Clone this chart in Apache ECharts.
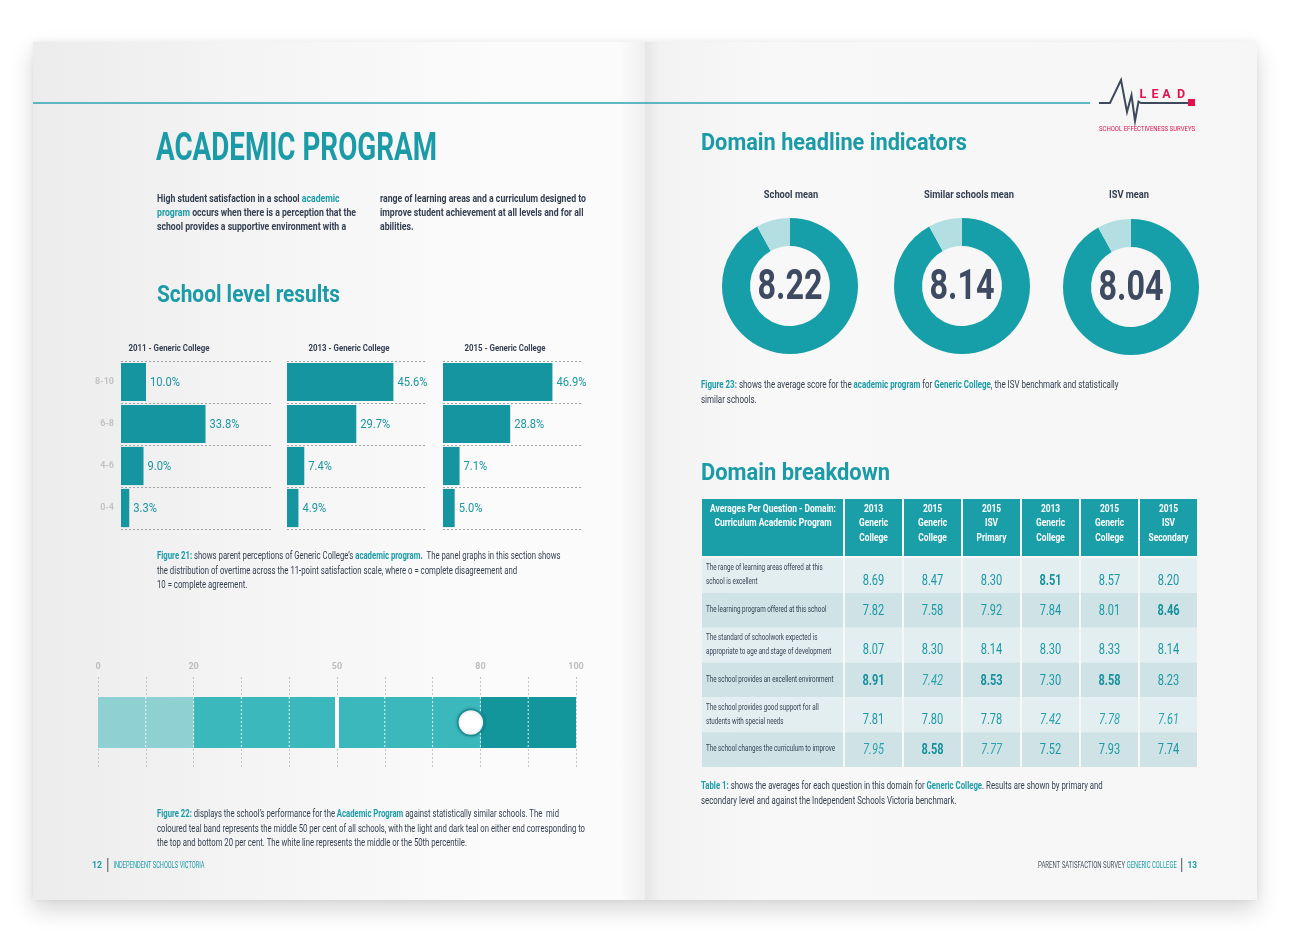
<!DOCTYPE html>
<html>
<head>
<meta charset="utf-8">
<script src="https://cdn.jsdelivr.net/npm/echarts@6.0.0/dist/echarts.min.js"></script>
<style>
  html, body { margin: 0; padding: 0; background: #ffffff; }
  #wrap { position: relative; width: 1290px; height: 942px; overflow: hidden; background: #ffffff; }
  #spread { position: absolute; left: 33px; top: 42px; width: 1224px; height: 858px; box-shadow: 0 10px 22px rgba(0,0,0,0.16), 0 0 6px rgba(0,0,0,0.06); }
  #leftPage { position: absolute; left: 33px; top: 42px; width: 612px; height: 858px;
    background: linear-gradient(to right, #ececec 0%, #f4f4f4 35%, #fbfbfb 75%, #fbfbfb 96%, #efefef 100%); }
  #rightPage { position: absolute; left: 645px; top: 42px; width: 612px; height: 858px;
    background: linear-gradient(to right, #e6e6e6 0%, #f2f2f2 2.5%, #f8f8f8 20%, #f6f6f6 100%); }
  #chart { position: absolute; left: 0; top: 0; width: 1290px; height: 942px; }
</style>
</head>
<body>
<div id="wrap">
  <div id="spread"></div>
  <div id="leftPage"></div>
  <div id="rightPage"></div>
  <div id="chart"></div>
</div>
<script>
// ---------------- DATA ----------------
const scoreBands = ['8-10', '6-8', '4-6', '0-4'];
const panelTitles = ['2011 - Generic College', '2013 - Generic College', '2015 - Generic College'];
const pct2011 = [10.0, 33.8, 9.0, 3.3];
const pct2013 = [45.6, 29.7, 7.4, 4.9];
const pct2015 = [46.9, 28.8, 7.1, 5.0];

const percentileTickLabels = [0, 20, 50, 80, 100];
const percentileGridLines = [10, 20, 30, 40, 50, 60, 70, 80, 90];
const bandLow = [0, 20];
const bandMid = [20, 80];
const bandHigh = [80, 100];
const medianPct = 50;
const schoolPct = 78;

const donutLabels = ['School mean', 'Similar schools mean', 'ISV mean'];
const donutMeans = [8.22, 8.14, 8.04];
const ringDark = [92, 92, 92];
const ringLight = [8, 8, 8];

const tableCorner = 'Averages Per Question - Domain:\nCurriculum Academic Program';
const tableColumns = ['2013\nGeneric\nCollege', '2015\nGeneric\nCollege', '2015\nISV\nPrimary',
                      '2013\nGeneric\nCollege', '2015\nGeneric\nCollege', '2015\nISV\nSecondary'];
const questions = [
  'The range of learning areas offered at this\nschool is excellent',
  'The learning program offered at this school',
  'The standard of schoolwork expected is\nappropriate to age and stage of development',
  'The school provides an excellent environment',
  'The school provides good support for all\nstudents with special needs',
  'The school changes the curriculum to improve'
];
const q1Values = [8.69, 8.47, 8.30, 8.51, 8.57, 8.20];
const q2Values = [7.82, 7.58, 7.92, 7.84, 8.01, 8.46];
const q3Values = [8.07, 8.30, 8.14, 8.30, 8.33, 8.14];
const q4Values = [8.91, 7.42, 8.53, 7.30, 8.58, 8.23];
const q5Values = [7.81, 7.80, 7.78, 7.42, 7.78, 7.61];
const q6Values = [7.95, 8.58, 7.77, 7.52, 7.93, 7.74];
const tableValues = [q1Values, q2Values, q3Values, q4Values, q5Values, q6Values];
// text emphasis of each value cell as printed (b = bold, i = italic, n = normal)
const valueEmphasis = [
  ['n','n','n','b','n','n'],
  ['n','n','n','n','n','b'],
  ['n','n','n','n','n','n'],
  ['b','i','b','n','b','n'],
  ['n','n','n','i','i','i'],
  ['i','b','i','n','n','n']
];

// ---------------- STYLE ----------------
const FONT = "Roboto, 'Liberation Sans', sans-serif";
const TEAL = '#1b9ba7';
const TEXT_TEAL = '#1a98a4';
const DARK = '#333f51';
const BAR = '#15959f';
const HEAD_BG = '#1a9ea8';
const ROW_A = '#e3eef0';
const ROW_B = '#cfe3e6';

// text measuring, used to squeeze text horizontally like the condensed face of the original
const mctx = document.createElement('canvas').getContext('2d');
function measure(str, size, weight) {
  mctx.font = (weight || 'normal') + ' ' + size + 'px ' + FONT;
  return mctx.measureText(str).width;
}
function fitScale(str, size, weight, target) { return target / measure(str, size, weight); }
function plain(s) { return s.replace(/\{[a-z]+\|([^}]*)\}/g, '$1'); }

function gText(x, y, text, o) {
  const st = {
    text: text, x: 0, y: 0, fontFamily: FONT, fontSize: o.size, fontWeight: o.weight || 'normal',
    fill: o.fill || DARK, align: o.align || 'left', verticalAlign: o.va || 'middle'
  };
  if (o.lh) st.lineHeight = o.lh;
  if (o.rich) st.rich = o.rich;
  return { type: 'text', x: x, y: y, scaleX: o.sx || 1, silent: true, style: st };
}

function caption(x, y, text, size, lh, fitLine, target) {
  const sx = fitScale(plain(fitLine), size, 'normal', target);
  return gText(x, y, text, { size: size, lh: lh, va: 'top', sx: sx, fill: DARK,
    rich: {
      b: { fontFamily: FONT, fontSize: size, fontWeight: 'bold', fill: TEAL, lineHeight: lh },
      n: { fontFamily: FONT, fontSize: size, fill: DARK, lineHeight: lh }
    } });
}

const chart = echarts.init(document.getElementById('chart'), null, { renderer: 'canvas' });

const panels = [pct2011, pct2013, pct2015];
const panelGrids = [{ left: 121, width: 150 }, { left: 287, width: 140 }, { left: 443, width: 140 }];
const panelTitleX = [169, 349, 505];
const donutCenters = [[790, 286], [962, 286], [1131, 287]];
const donutTitleX = [791, 969, 1129];

const graphics = [];
// top rule
graphics.push({ type: 'line', silent: true, shape: { x1: 33, y1: 103, x2: 1090, y2: 103 }, style: { stroke: '#2aa3b2', lineWidth: 1.5 } });
// LEAD logo
graphics.push({ type: 'polyline', silent: true,
  shape: { points: [[1099,103],[1110,103],[1121,80],[1127,112],[1131.5,95],[1135,121],[1138.5,101.5],[1141,103],[1189,103]] },
  style: { stroke: '#3e4a5c', lineWidth: 2, fill: null, lineJoin: 'miter' } });
graphics.push({ type: 'rect', silent: true, shape: { x: 1188, y: 99, width: 7, height: 7 }, style: { fill: '#e2124c' } });
['L', 'E', 'A', 'D'].forEach(function (ch, i) {
  graphics.push(gText([1143, 1155, 1166.5, 1181][i], 94.5, ch, { size: 12.5, weight: 'bold', fill: '#e2124c', align: 'center' }));
});
graphics.push(gText(1099, 129, 'SCHOOL EFFECTIVENESS SURVEYS',
  { size: 7, fill: '#e2124c', sx: fitScale('SCHOOL EFFECTIVENESS SURVEYS', 7, 'normal', 96) }));

// titles
graphics.push(gText(156, 150, 'ACADEMIC PROGRAM', { size: 38, weight: 'bold', fill: TEAL, sx: fitScale('ACADEMIC PROGRAM', 38, 'bold', 281) }));
graphics.push(gText(157, 295.5, 'School level results', { size: 24, weight: 'bold', fill: TEAL, sx: fitScale('School level results', 24, 'bold', 183) }));
graphics.push(gText(701, 143.5, 'Domain headline indicators', { size: 24, weight: 'bold', fill: TEAL, sx: fitScale('Domain headline indicators', 24, 'bold', 266) }));
graphics.push(gText(701, 473.5, 'Domain breakdown', { size: 24, weight: 'bold', fill: TEAL, sx: fitScale('Domain breakdown', 24, 'bold', 189) }));

// intro paragraph
const introL = 'High student satisfaction in a school {t|academic}\n{t|program} occurs when there is a perception that the\nschool provides a supportive environment with a';
const introR = 'range of learning areas and a curriculum designed to\nimprove student achievement at all levels and for all\nabilities.';
graphics.push(gText(157, 192, introL, { size: 10.5, weight: 'bold', lh: 14, va: 'top',
  sx: fitScale('program occurs when there is a perception that the', 10.5, 'bold', 199),
  rich: { t: { fontFamily: FONT, fontWeight: 'bold', fontSize: 10.5, fill: TEAL, lineHeight: 14 } } }));
graphics.push(gText(380, 192, introR, { size: 10.5, weight: 'bold', lh: 14, va: 'top',
  sx: fitScale('range of learning areas and a curriculum designed to', 10.5, 'bold', 206) }));

// captions
const fig21 = '{b|Figure 21:} shows parent perceptions of Generic College\u2019s {b|academic program.}  The panel graphs in this section shows\nthe distribution of overtime across the 11-point satisfaction scale, where o = complete disagreement and\n10 = complete agreement.';
graphics.push(caption(157, 549.5, fig21, 10, 14.5, fig21.split('\n')[0], 402));
const fig22 = '{b|Figure 22:} displays the school\u2019s performance for the {b|Academic Program} against statistically similar schools. The  mid\ncoloured teal band represents the middle 50 per cent of all schools, with the light and dark teal on either end corresponding to\nthe top and bottom 20 per cent. The white line represents the middle or the 50th percentile.';
graphics.push(caption(157, 807.5, fig22, 10, 14.5, fig22.split('\n')[1], 428));
const fig23 = '{b|Figure 23:} shows the average score for the {b|academic program} for {b|Generic College}, the ISV benchmark and statistically\nsimilar schools.';
graphics.push(caption(701, 378, fig23, 10, 15, fig23.split('\n')[0], 415));
const tab1 = '{b|Table 1:} shows the averages for each question in this domain for {b|Generic College}. Results are shown by primary and\nsecondary level and against the Independent Schools Victoria benchmark.';
graphics.push(caption(701, 779.5, tab1, 10, 14.5, tab1.split('\n')[0], 400));

// panel titles
const panelTitleSx = fitScale(panelTitles[0], 9.5, 'bold', 81);
panelTitles.forEach(function (t, i) {
  graphics.push(gText(panelTitleX[i], 348.5, t, { size: 9.5, weight: 'bold', align: 'center', sx: panelTitleSx }));
});
// donut titles and centre values
const donutTitleSx = fitScale(donutLabels[1], 11, 'bold', 90);
donutLabels.forEach(function (t, i) {
  graphics.push(gText(donutTitleX[i], 195.5, t, { size: 11, weight: 'bold', align: 'center', sx: donutTitleSx }));
});
const donutValSx = fitScale('8.14', 42, 'bold', 65);
donutMeans.forEach(function (m, i) {
  graphics.push({ type: 'text', x: donutCenters[i][0], y: donutCenters[i][1] + 2, scaleX: donutValSx, silent: true, z: 10,
    style: { text: m.toFixed(2), x: 0, y: 0, fontFamily: FONT, fontSize: 42, fontWeight: 'bold', fill: '#3e4a62', align: 'center', verticalAlign: 'middle' } });
});

// footers
graphics.push(gText(92, 865.5, '12', { size: 9.5, weight: 'bold', fill: TEAL, sx: fitScale('12', 9.5, 'bold', 10) }));
graphics.push({ type: 'line', silent: true, shape: { x1: 107.8, y1: 858, x2: 107.8, y2: 872 }, style: { stroke: '#4a5364', lineWidth: 1 } });
graphics.push(gText(113.5, 865.5, 'INDEPENDENT SCHOOLS VICTORIA', { size: 8.5, fill: TEAL, sx: fitScale('INDEPENDENT SCHOOLS VICTORIA', 8.5, 'normal', 91) }));
graphics.push(gText(1197, 865.5, '13', { size: 9.5, weight: 'bold', fill: TEAL, align: 'right', sx: fitScale('13', 9.5, 'bold', 9.5) }));
graphics.push({ type: 'line', silent: true, shape: { x1: 1181.7, y1: 858, x2: 1181.7, y2: 872 }, style: { stroke: '#4a5364', lineWidth: 1 } });
graphics.push(gText(1176.7, 865.5, 'GENERIC COLLEGE', { size: 8.5, fill: TEAL, align: 'right', sx: fitScale('GENERIC COLLEGE', 8.5, 'normal', 50) }));
graphics.push(gText(1125, 865.5, 'PARENT SATISFACTION SURVEY', { size: 8.5, fill: '#4a5364', align: 'right', sx: fitScale('PARENT SATISFACTION SURVEY', 8.5, 'normal', 87) }));

// ---------------- render helpers ----------------
const barLabelSx = fitScale('33.8%', 12.5, 'normal', 30);
function renderBarLabel(params, api) {
  const v = api.value(0);
  const p = api.coord([v, api.value(1)]);
  return { type: 'text', x: p[0] + 4, y: p[1] + 0.5, scaleX: barLabelSx,
    style: { text: v.toFixed(1) + '%', x: 0, y: 0, fontFamily: FONT, fontSize: 12.5, fill: '#1b96a2', align: 'left', verticalAlign: 'middle' } };
}
function renderBand(params, api) {
  const a = api.coord([api.value(0), 0.78]);
  const b = api.coord([api.value(1), 0.22]);
  const colors = ['#8fd0d3', '#3ab8bc', '#12959b'];
  return { type: 'rect', shape: { x: a[0], y: a[1], width: b[0] - a[0], height: b[1] - a[1] }, style: { fill: colors[api.value(2)] } };
}
function renderWhiteDash(params, api) {
  const a = api.coord([api.value(0), 0.78]);
  const b = api.coord([api.value(0), 0.22]);
  return { type: 'line', shape: { x1: a[0], y1: a[1], x2: b[0], y2: b[1] }, style: { stroke: 'rgba(255,255,255,0.85)', lineWidth: 1, lineDash: [2, 2] } };
}
function renderMedian(params, api) {
  const a = api.coord([api.value(0), 0.785]);
  const b = api.coord([api.value(0), 0.215]);
  return { type: 'rect', shape: { x: a[0] - 2, y: a[1], width: 4, height: b[1] - a[1] }, style: { fill: '#ffffff' } };
}
function cellBox(api) {
  const c = api.coord([api.value(0), api.value(1)]);
  const s = api.size([1, 1]);
  return { cx: c[0], cy: c[1], x: c[0] - s[0] / 2, y: c[1] - s[1] / 2, w: s[0], h: s[1] };
}
const cornerSx = fitScale('Averages Per Question - Domain:', 10, 'bold', 126);
const headSx = fitScale('Secondary', 10, 'bold', 40);
const questionSx = fitScale('The school changes the curriculum to improve', 9, 'normal', 129);
const valueSx = fitScale('8.69', 14.5, 'normal', 21.5);

function renderCorner(params, api) {
  const b = cellBox(api);
  return { type: 'group', children: [
    { type: 'rect', shape: { x: b.x, y: b.y, width: b.w - 1, height: b.h }, style: { fill: HEAD_BG } },
    { type: 'text', x: b.cx, y: b.y + 3, scaleX: cornerSx,
      style: { text: tableCorner, x: 0, y: 0, align: 'center', verticalAlign: 'top', fontFamily: FONT, fontWeight: 'bold', fontSize: 10, lineHeight: 14, fill: '#ffffff' } }
  ] };
}
function renderHeader(params, api) {
  const b = cellBox(api);
  const col = api.value(0);
  return { type: 'group', children: [
    { type: 'rect', shape: { x: b.x + 1, y: b.y, width: b.w - 2, height: b.h }, style: { fill: HEAD_BG } },
    { type: 'text', x: b.cx, y: b.cy - 4, scaleX: headSx,
      style: { text: tableColumns[col], x: 0, y: 0, align: 'center', verticalAlign: 'middle', fontFamily: FONT, fontWeight: 'bold', fontSize: 10, lineHeight: 14.5, fill: '#ffffff' } }
  ] };
}
function renderQuestion(params, api) {
  const b = cellBox(api);
  const row = api.value(1);
  return { type: 'group', children: [
    { type: 'rect', shape: { x: b.x, y: b.y, width: b.w - 1, height: b.h }, style: { fill: row % 2 ? ROW_B : ROW_A } },
    { type: 'text', x: b.x + 4, y: b.cy - 0.5, scaleX: questionSx,
      style: { text: questions[row], x: 0, y: 0, align: 'left', verticalAlign: 'middle', fontFamily: FONT, fontSize: 9, lineHeight: 14, fill: DARK } }
  ] };
}
function renderValue(params, api) {
  const b = cellBox(api);
  const col = api.value(0), row = api.value(1), v = api.value(2);
  const em = valueEmphasis[row][col];
  const twoLine = questions[row].indexOf('\n') >= 0;
  return { type: 'group', children: [
    { type: 'rect', shape: { x: b.x + 1, y: b.y, width: b.w - 2, height: b.h }, style: { fill: row % 2 ? ROW_B : ROW_A } },
    { type: 'text', x: b.cx, y: b.cy + (twoLine ? 5.5 : 1), scaleX: valueSx,
      style: { text: v.toFixed(2), x: 0, y: 0, align: 'center', verticalAlign: 'middle',
        fontFamily: FONT, fontSize: 14.5, fontWeight: em === 'b' ? 'bold' : 'normal', fontStyle: em === 'i' ? 'italic' : 'normal',
        fill: em === 'b' ? '#15909c' : (em === 'i' ? '#2aa2ad' : TEXT_TEAL) } }
  ] };
}

// ---------------- OPTION ----------------
const grids = [];
const xAxes = [];
const yAxes = [];
const series = [];

panelGrids.forEach(function (g, i) {
  grids.push({ left: g.left, top: 361, width: g.width, height: 168, outerBoundsMode: 'none' });
  xAxes.push({ gridIndex: i, type: 'value', min: 0, max: 60, show: false });
  yAxes.push({ gridIndex: i, type: 'category', data: scoreBands, inverse: true,
    axisLine: { show: false }, axisTick: { show: false },
    axisLabel: { show: i === 0, color: '#c3c3c3', fontSize: 9, fontWeight: 'bold', fontFamily: FONT, margin: 7 },
    splitLine: { show: true, showMinLine: true, showMaxLine: true, lineStyle: { type: [2, 2], color: '#9fa3a8', width: 1 } } });
  series.push({ type: 'bar', xAxisIndex: i, yAxisIndex: i, data: panels[i], barCategoryGap: '9%', silent: true,
    itemStyle: { color: BAR } });
  series.push({ type: 'custom', xAxisIndex: i, yAxisIndex: i, silent: true, z: 3, renderItem: renderBarLabel,
    data: panels[i].map(function (v, r) { return [v, r]; }) });
});

// bullet (grid 3)
grids.push({ left: 98, top: 677, width: 478, height: 91, outerBoundsMode: 'none' });
xAxes.push({ gridIndex: 3, type: 'value', position: 'top', min: 0, max: 100, interval: 10,
  axisLine: { show: false }, axisTick: { show: false },
  axisLabel: { color: '#bdbdbd', fontSize: 9, fontWeight: 'bold', fontFamily: FONT, margin: 6,
    formatter: function (v) { return percentileTickLabels.indexOf(v) >= 0 ? String(v) : ''; } },
  splitLine: { show: true, lineStyle: { type: [2, 2], color: '#c4c4c4', width: 1 } } });
yAxes.push({ gridIndex: 3, type: 'value', min: 0, max: 1, show: false });
series.push({ type: 'custom', xAxisIndex: 3, yAxisIndex: 3, silent: true, z: 2, renderItem: renderBand,
  data: [[bandLow[0], bandLow[1], 0], [bandMid[0], bandMid[1], 1], [bandHigh[0], bandHigh[1], 2]] });
series.push({ type: 'custom', xAxisIndex: 3, yAxisIndex: 3, silent: true, z: 3, renderItem: renderWhiteDash,
  data: percentileGridLines.map(function (v) { return [v]; }) });
series.push({ type: 'custom', xAxisIndex: 3, yAxisIndex: 3, silent: true, z: 4, renderItem: renderMedian, data: [[medianPct]] });
series.push({ type: 'scatter', xAxisIndex: 3, yAxisIndex: 3, silent: true, z: 5, symbolSize: 26,
  itemStyle: { color: '#ffffff', opacity: 1, borderColor: '#168e97', borderWidth: 1.5, shadowBlur: 3, shadowColor: 'rgba(0,0,0,0.25)' },
  data: [[schoolPct, 0.5]] });

// donuts
donutMeans.forEach(function (m, i) {
  series.push({ type: 'pie', center: donutCenters[i], radius: [40, 68], startAngle: 90, clockwise: true,
    silent: true, animation: false, label: { show: false }, labelLine: { show: false },
    data: [
      { name: donutLabels[i], value: ringDark[i], itemStyle: { color: '#169fa8' } },
      { name: 'rest', value: ringLight[i], itemStyle: { color: '#b4dfe2' } }
    ] });
});

// table grids
grids.push({ left: 702, top: 499, width: 142, height: 57, outerBoundsMode: 'none' }); // 4 corner
grids.push({ left: 844, top: 499, width: 354, height: 57, outerBoundsMode: 'none' }); // 5 headers
grids.push({ left: 702, top: 558, width: 142, height: 209, outerBoundsMode: 'none' }); // 6 questions
grids.push({ left: 844, top: 558, width: 354, height: 209, outerBoundsMode: 'none' }); // 7 values
const colKeys = tableColumns.map(function (_, i) { return i; });
const rowKeys = questions.map(function (_, i) { return i; });
xAxes.push({ gridIndex: 4, type: 'category', data: [0], show: false });
yAxes.push({ gridIndex: 4, type: 'category', data: [0], show: false });
xAxes.push({ gridIndex: 5, type: 'category', data: colKeys, show: false });
yAxes.push({ gridIndex: 5, type: 'category', data: [0], show: false });
xAxes.push({ gridIndex: 6, type: 'category', data: [0], show: false });
yAxes.push({ gridIndex: 6, type: 'category', data: rowKeys, inverse: true, show: false });
xAxes.push({ gridIndex: 7, type: 'category', data: colKeys, show: false });
yAxes.push({ gridIndex: 7, type: 'category', data: rowKeys, inverse: true, show: false });

series.push({ type: 'custom', xAxisIndex: 4, yAxisIndex: 4, silent: true, renderItem: renderCorner, data: [[0, 0]] });
series.push({ type: 'custom', xAxisIndex: 5, yAxisIndex: 5, silent: true, renderItem: renderHeader,
  data: colKeys.map(function (c) { return [c, 0]; }) });
series.push({ type: 'custom', xAxisIndex: 6, yAxisIndex: 6, silent: true, renderItem: renderQuestion,
  data: rowKeys.map(function (r) { return [0, r]; }) });
const valueCells = [];
tableValues.forEach(function (rowVals, r) { rowVals.forEach(function (v, c) { valueCells.push([c, r, v]); }); });
series.push({ type: 'custom', xAxisIndex: 7, yAxisIndex: 7, silent: true, renderItem: renderValue, data: valueCells });

chart.setOption({
  backgroundColor: 'transparent',
  animation: false,
  grid: grids,
  xAxis: xAxes,
  yAxis: yAxes,
  series: series,
  graphic: { elements: graphics }
});
</script>
</body>
</html>
